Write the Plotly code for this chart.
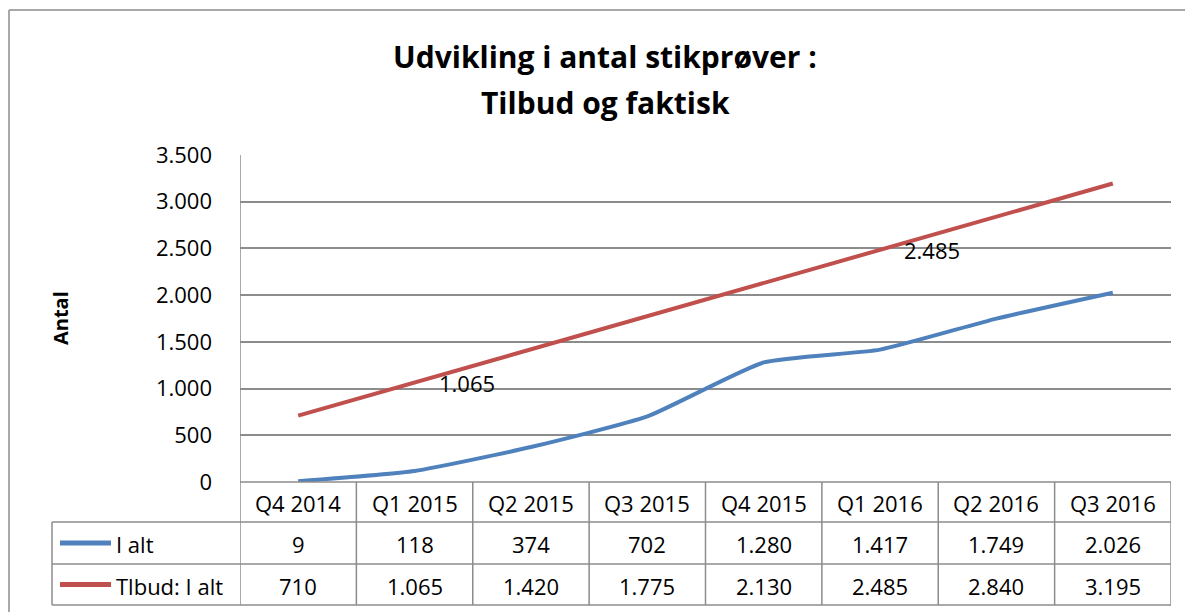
import plotly.graph_objects as go

# ---- data ----
categories = ["Q4 2014", "Q1 2015", "Q2 2015", "Q3 2015", "Q4 2015", "Q1 2016", "Q2 2016", "Q3 2016"]
i_alt = [9, 118, 374, 702, 1280, 1417, 1749, 2026]
tilbud = [710, 1065, 1420, 1775, 2130, 2485, 2840, 3195]
series_names = ["I alt", "Tlbud: I alt"]
labelled_points = [1, 5]  # indices of Tilbud points carrying a data label
title_lines = ["Udvikling i antal stikprøver :", "Tilbud og faktisk"]
y_title = "Antal"
y_ticks = [0, 500, 1000, 1500, 2000, 2500, 3000, 3500]

# ---- layout constants (page pixel coords; the page body has an 8px margin) ----
OFF = 8
W, H = 1193 - OFF, 612 - OFF
L, R, T, B = 240 - OFF, 1171 - OFF, 155 - OFF, 482 - OFF
FONT = "Open Sans"
BLUE, RED = "#4F81BD", "#C0504D"
GRID = "#8C8C8C"
TXT = 22


def px(x):
    return (x - OFF - L) / (R - L)


def py(y):
    return (B - (y - OFF)) / (B - T)


def fmt(v):
    return f"{v:,}".replace(",", ".")


x = list(range(len(categories)))
fig = go.Figure()
fig.add_trace(go.Scatter(x=x, y=i_alt, mode="lines", name=series_names[0],
                         line=dict(color=BLUE, width=4, shape="spline", smoothing=0.5)))
fig.add_trace(go.Scatter(x=x, y=tilbud, mode="lines", name=series_names[1],
                         line=dict(color=RED, width=4)))

shapes = []
annotations = []


def ann(xv, yv, text, xref="paper", yref="paper", size=TXT, xanchor="center", **kw):
    annotations.append(dict(x=xv, y=yv, xref=xref, yref=yref, text=text, showarrow=False,
                            xanchor=xanchor, yanchor="middle",
                            font=dict(size=size, color="black", family=FONT), **kw))


# outer chart border (top and left edges; the others lie outside the picture)
shapes.append(dict(type="line", xref="paper", yref="paper", x0=px(9), x1=px(1193),
                   y0=py(10), y1=py(10), line=dict(color="#8C8C8C", width=1.5), layer="below"))
shapes.append(dict(type="line", xref="paper", yref="paper", x0=px(9), x1=px(9),
                   y0=py(10), y1=py(612), line=dict(color="#8C8C8C", width=1.5), layer="below"))

# table rows (page y)
row_y = [482, 522, 564, 605]
n = len(categories)
shapes.append(dict(type="line", xref="x", yref="paper", x0=-0.5, x1=n - 0.5,
                   y0=py(row_y[0]), y1=py(row_y[0]), line=dict(color=GRID, width=1.5)))
for ry in row_y[1:]:
    shapes.append(dict(type="line", xref="paper", yref="paper", x0=px(52), x1=px(1171),
                       y0=py(ry), y1=py(ry), line=dict(color=GRID, width=1.5)))
for i in range(n + 1):
    shapes.append(dict(type="line", xref="x", yref="paper", x0=i - 0.5, x1=i - 0.5,
                       y0=py(row_y[0]), y1=py(row_y[3]), line=dict(color=GRID, width=1.5)))
shapes.append(dict(type="line", xref="x", yref="paper", x0=-0.5, x1=-0.5,
                   y0=py(155), y1=py(482), line=dict(color=GRID, width=1.5)))
shapes.append(dict(type="line", xref="paper", yref="paper", x0=px(52), x1=px(52),
                   y0=py(row_y[1]), y1=py(row_y[3]), line=dict(color=GRID, width=1.5)))

# table text
for i, c in enumerate(categories):
    ann(i, py((row_y[0] + row_y[1]) / 2 + 1), c, xref="x")
    for r, vals in enumerate([i_alt, tilbud]):
        ann(i, py((row_y[r + 1] + row_y[r + 2]) / 2 + 1), fmt(vals[i]), xref="x")

# legend keys in table
for r, (name, col) in enumerate(zip(series_names, [BLUE, RED])):
    ymid = py((row_y[r + 1] + row_y[r + 2]) / 2)
    shapes.append(dict(type="line", xref="paper", yref="paper", x0=px(60), x1=px(111),
                       y0=ymid, y1=ymid, line=dict(color=col, width=5)))
    ann(px(114), py((row_y[r + 1] + row_y[r + 2]) / 2 + 1), name, xanchor="left")

# data labels (offset as in reference)
for i in labelled_points:
    ann(i + 0.45, tilbud[i], fmt(tilbud[i]), xref="x", yref="y")

# title
ann(px(605), py(57), "<b>" + title_lines[0] + "</b>", size=30)
ann(px(605), py(102), "<b>" + title_lines[1] + "</b>", size=30)
# y axis title
ann(px(60), py(318), "<b>" + y_title + "</b>", size=20, textangle=-90)

fig.update_layout(
    width=W, height=H,
    margin=dict(l=L, r=W - R, t=T, b=H - B, pad=0),
    paper_bgcolor="white", plot_bgcolor="white",
    showlegend=False,
    separators=",.",
    font=dict(family=FONT, size=TXT, color="black"),
    shapes=shapes, annotations=annotations,
    xaxis=dict(range=[-0.5, n - 0.5], showticklabels=False, showgrid=False, zeroline=False,
               fixedrange=True),
    yaxis=dict(range=[0, 3500], tickvals=y_ticks, ticktext=[fmt(v) for v in y_ticks],
               showgrid=True, gridcolor=GRID, gridwidth=1.5, zeroline=False,
               ticks="", ticklabelstandoff=27, tickfont=dict(size=TXT, family=FONT)),
)

fig.write_html("out.html")
